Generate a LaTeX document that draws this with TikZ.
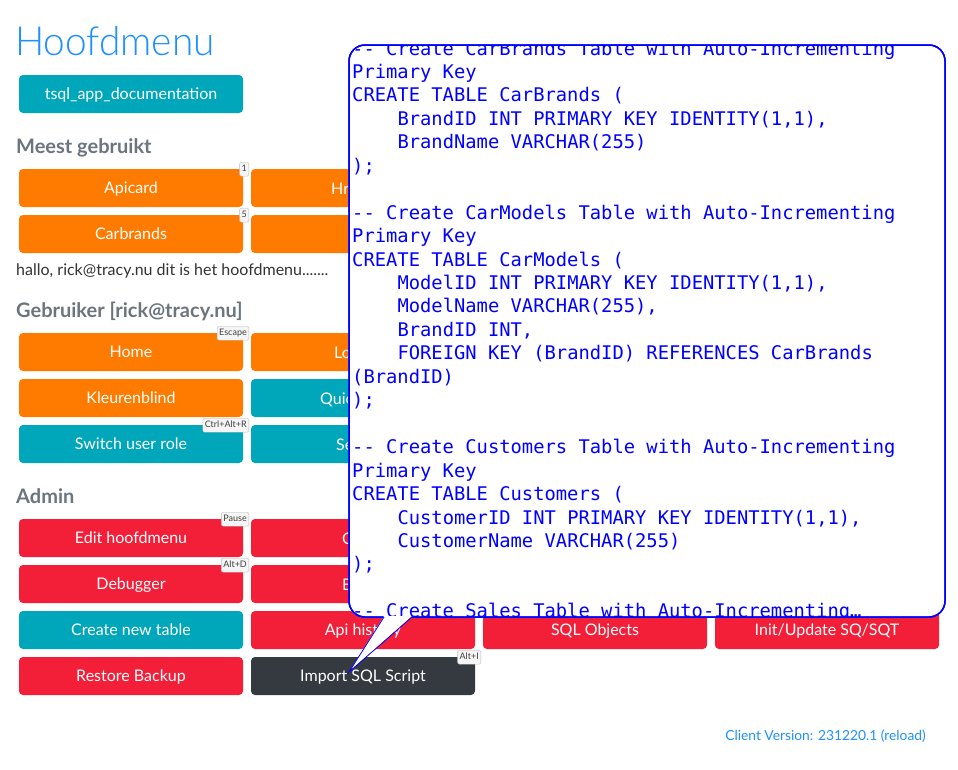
\documentclass[tikz,border=0pt]{standalone}
\usepackage{fontspec}
\usetikzlibrary{calc}
\setmainfont{Lato}
\setmonofont{DejaVu Sans Mono}
\newfontfamily\titlefont[FakeStretch=0.97]{Lato Light}
\definecolor{borange}{RGB}{255,123,0}
\definecolor{bred}{RGB}{243,30,56}
\definecolor{bteal}{RGB}{0,166,186}
\definecolor{bdark}{RGB}{52,58,64}
\definecolor{hgray}{RGB}{108,117,125}
\definecolor{ttext}{RGB}{51,51,51}
\definecolor{tblue}{RGB}{30,144,255}
\definecolor{cblue}{RGB}{0,0,255}
\begin{document}
\begin{tikzpicture}[x=1pt,y=-1pt,
  btn/.style={rounded corners=4pt, minimum width=224pt, minimum height=38pt, inner sep=0pt,
    text=white, font=\fontsize{16}{16}\selectfont, text height=12pt, text depth=1pt},
  btntxt/.style={text=white, font=\fontsize{16}{16}\selectfont, inner sep=0pt, anchor=base west},
  badge/.style={draw=black!25, fill=black!4, rounded corners=2pt, inner xsep=2pt, inner ysep=0pt,
    font=\fontsize{9}{9}\selectfont, text=black!75, minimum height=14pt, text height=6.8pt, text depth=1.6pt, anchor=north east},
  heading/.style={text=hgray, font=\fontsize{20}{20}\selectfont\bfseries, inner sep=0pt, anchor=base west},
  code/.style={text=cblue, font=\ttfamily\fontsize{18.8}{23.45}\selectfont, inner sep=0pt, anchor=base west}
]
\useasboundingbox (0,0) rectangle (958,769);
\fill[white] (0,0) rectangle (958,769);

% title
\node[text=tblue, font=\titlefont\fontsize{40}{40}\selectfont, inner sep=0pt, anchor=base west] (title) at (15,55) {Hoofdmenu};

\node[btn, fill=bteal] (doc) at (131,94) {tsql\_app\_documentation};

% Meest gebruikt
\node[heading] (h1) at (16,153) {Meest gebruikt};
\node[btn, fill=borange] (apicard) at (131,188) {Apicard};
\node[btn, fill=borange] (b12) at (363,188) {};
\node[btntxt] (t12) at (331,194) {Hr};
\node[btn, fill=borange] (carbrands) at (131,234) {Carbrands};
\node[btn, fill=borange] (b22) at (363,234) {};
\node[badge] (k1) at (249,162) {1};
\node[badge] (k5) at (249,208) {5};
\node[text=ttext, font=\fontsize{16}{16}\selectfont, inner sep=0pt, anchor=base west] (hallo) at (16,275) {hallo, rick@tracy.nu dit is het hoofdmenu.......};

% Gebruiker
\node[heading] (h2) at (16,317) {Gebruiker [rick@tracy.nu]};
\node[btn, fill=borange] (home) at (131,352) {Home};
\node[btn, fill=borange] (b32) at (363,352) {};
\node[btntxt] (t32) at (334,358) {Lo};
\node[btn, fill=borange] (kleur) at (131,398) {Kleurenblind};
\node[btn, fill=bteal] (b42) at (363,398) {};
\node[btntxt] (t42) at (320,404) {Quic};
\node[btn, fill=bteal] (switch) at (131,444) {Switch user role};
\node[btn, fill=bteal] (b52) at (363,444) {};
\node[btntxt] (t52) at (336,450) {Se};
\node[badge] (kesc) at (249,326) {Escape};
\node[badge] (kctrl) at (249,418) {Ctrl+Alt+R};

% Admin
\node[heading] (h3) at (16,503) {Admin};
\node[btn, fill=bred] (edit) at (131,538) {Edit hoofdmenu};
\node[btn, fill=bred] (b62) at (363,538) {};
\node[btntxt] (t62) at (342,544) {C};
\node[btn, fill=bred] (debug) at (131,584) {Debugger};
\node[btn, fill=bred] (b72) at (363,584) {};
\node[btntxt] (t72) at (342,590) {E};
\node[btn, fill=bteal] (create) at (131,630) {Create new table};
\node[btn, fill=bred] (api) at (363,630) {Api history};
\node[btn, fill=bred] (sqlobj) at (595,630) {SQL Objects};
\node[btn, fill=bred] (init) at (827,630) {Init/Update SQ/SQT};
\node[btn, fill=bred] (restore) at (131,676) {Restore Backup};
\node[btn, fill=bdark] (import) at (363,676) {Import SQL Script};
\node[badge] (kpause) at (249,512) {Pause};
\node[badge] (kaltd) at (249,558) {Alt+D};
\node[badge] (kalti) at (481,650) {Alt+I};

\node[text=tblue, font=\fontsize{13.8}{14}\selectfont, inner sep=0pt, anchor=base east] (version) at (926,740) {Client Version: 231220.1 (reload)};

% callout
\coordinate (tailL) at (384,617);
\coordinate (tailR) at (412,617);
\coordinate (tip) at (349,672);
\fill[white, draw=cblue, line width=1.5pt, rounded corners=16pt] (349,45) rectangle (945,617);
\begin{scope}
\clip[rounded corners=16pt] (349.75,45.75) rectangle (944.25,616.25);
\node[code] (c0) at (352,55.0) {-- Create CarBrands Table with Auto-Incrementing};
\node[code] (c1) at (352,78.45) {Primary Key};
\node[code] (c2) at (352,101.9) {CREATE TABLE CarBrands (};
\node[code] (c3) at (397.3,125.35) {BrandID INT PRIMARY KEY IDENTITY(1,1),};
\node[code] (c4) at (397.3,148.8) {BrandName VARCHAR(255)};
\node[code] (c5) at (352,172.25) {);};
\node[code] (c7) at (352,219.15) {-- Create CarModels Table with Auto-Incrementing};
\node[code] (c8) at (352,242.6) {Primary Key};
\node[code] (c9) at (352,266.05) {CREATE TABLE CarModels (};
\node[code] (c10) at (397.3,289.5) {ModelID INT PRIMARY KEY IDENTITY(1,1),};
\node[code] (c11) at (397.3,312.95) {ModelName VARCHAR(255),};
\node[code] (c12) at (397.3,336.4) {BrandID INT,};
\node[code] (c13) at (397.3,359.85) {FOREIGN KEY (BrandID) REFERENCES CarBrands};
\node[code] (c14) at (352,383.3) {(BrandID)};
\node[code] (c15) at (352,406.75) {);};
\node[code] (c17) at (352,453.65) {-- Create Customers Table with Auto-Incrementing};
\node[code] (c18) at (352,477.1) {Primary Key};
\node[code] (c19) at (352,500.55) {CREATE TABLE Customers (};
\node[code] (c20) at (397.3,524.0) {CustomerID INT PRIMARY KEY IDENTITY(1,1),};
\node[code] (c21) at (397.3,547.45) {CustomerName VARCHAR(255)};
\node[code] (c22) at (352,570.9) {);};
\node[code] (c24) at (352,617.8) {-- Create Sales Table with Auto-Incrementing…};
\end{scope}
\draw[cblue, line width=1.5pt, rounded corners=16pt] (349,45) rectangle (945,617);
\fill[white] ($(tailL)+(0,-1)$) -- (tip) -- ($(tailR)+(0,-1)$) -- cycle;
\draw[cblue, line width=0.8pt, line join=miter] (tailL) -- (tip) -- (tailR);
\end{tikzpicture}
\end{document}
